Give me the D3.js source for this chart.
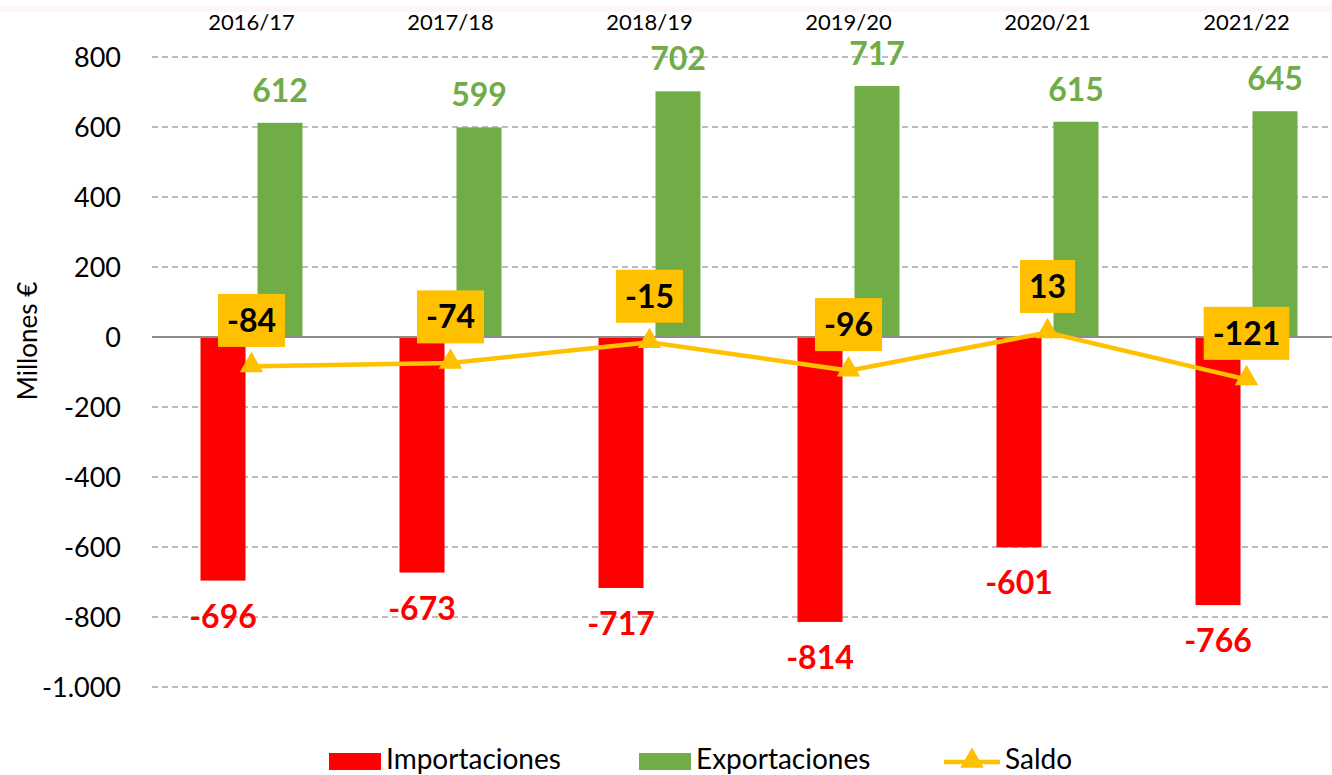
<!DOCTYPE html>
<html>
<head>
<meta charset="utf-8">
<script src="https://cdn.jsdelivr.net/npm/d3@7"></script>
<style>
  body { margin: 0; background: #fff; }
  svg { display: block; font-family: Lato, "Open Sans", sans-serif; }
</style>
</head>
<body>
<div id="chart"></div>
<script>
// campaign years and values (millones €)
var campaigns = ["2016/17", "2017/18", "2018/19", "2019/20", "2020/21", "2021/22"];
var importaciones = [-696, -673, -717, -814, -601, -766];
var exportaciones = [612, 599, 702, 717, 615, 645];
var saldo = [-84, -74, -15, -96, 13, -121];
var yTicks = [-1000, -800, -600, -400, -200, 0, 200, 400, 600, 800];

var width = 1332, height = 775;
var colImp = "#ff0000", colExp = "#70ad47", colSaldo = "#ffc000";

var svg = d3.select("#chart").append("svg")
  .attr("width", width)
  .attr("height", height);

// faint strip along the top
svg.append("rect").attr("x", 0).attr("y", 6).attr("width", width).attr("height", 6)
  .attr("fill", "#fcf7f6");

var x = d3.scaleBand().domain(campaigns).range([152, 1346]);
var inner = d3.scaleBand().domain(["imp", "exp"]).range([0, x.bandwidth()])
  .paddingInner(0.21).paddingOuter(0.851);
var y = d3.scaleLinear().domain([-1000, 800]).range([687, 57]);

// spanish style: dot thousands, plain hyphen for minus
var fmt = function(v) {
  return d3.format(",")(v).replace(/,/g, ".").replace("\u2212", "-");
};

// grid
svg.append("g").selectAll("line")
  .data(yTicks.filter(function(d) { return d !== 0; }))
  .join("line")
  .attr("x1", 152).attr("x2", width)
  .attr("y1", function(d) { return y(d); })
  .attr("y2", function(d) { return y(d); })
  .attr("stroke", "#a6a6a6")
  .attr("stroke-width", 1.3)
  .attr("stroke-dasharray", "6,4");

// y axis labels
svg.append("g").selectAll("text")
  .data(yTicks)
  .join("text")
  .attr("x", 121)
  .attr("y", function(d) { return y(d); })
  .attr("dy", "0.36em")
  .attr("text-anchor", "end")
  .attr("font-size", 27)
  .attr("fill", "#000")
  .text(fmt);

// y title
svg.append("text")
  .attr("transform", "translate(37,341) rotate(-90)")
  .attr("text-anchor", "middle")
  .attr("font-size", 26)
  .text("Millones €");

// campaign labels on top
svg.append("g").selectAll("text")
  .data(campaigns)
  .join("text")
  .attr("x", function(d) { return x(d) + x.bandwidth() / 2; })
  .attr("y", 30)
  .attr("text-anchor", "middle")
  .attr("font-size", 22)
  .text(function(d) { return d; });

// bars
svg.append("g").selectAll("rect")
  .data(importaciones)
  .join("rect")
  .attr("x", function(d, i) { return x(campaigns[i]) + inner("imp"); })
  .attr("width", inner.bandwidth())
  .attr("y", y(0))
  .attr("height", function(d) { return y(d) - y(0); })
  .attr("fill", colImp);

svg.append("g").selectAll("rect")
  .data(exportaciones)
  .join("rect")
  .attr("x", function(d, i) { return x(campaigns[i]) + inner("exp"); })
  .attr("width", inner.bandwidth())
  .attr("y", function(d) { return y(d); })
  .attr("height", function(d) { return y(0) - y(d); })
  .attr("fill", colExp);

// zero line
svg.append("line")
  .attr("x1", 152).attr("x2", width)
  .attr("y1", y(0)).attr("y2", y(0))
  .attr("stroke", "#8c8c8c")
  .attr("stroke-width", 2);

// bar value labels
svg.append("g").selectAll("text")
  .data(exportaciones)
  .join("text")
  .attr("x", function(d, i) { return x(campaigns[i]) + inner("exp") + inner.bandwidth() / 2; })
  .attr("y", function(d) { return y(d) - 21; })
  .attr("text-anchor", "middle")
  .attr("font-size", 32)
  .attr("font-weight", "bold")
  .attr("fill", colExp)
  .text(fmt);

svg.append("g").selectAll("text")
  .data(importaciones)
  .join("text")
  .attr("x", function(d, i) { return x(campaigns[i]) + inner("imp") + inner.bandwidth() / 2; })
  .attr("y", function(d) { return y(d) + 47; })
  .attr("text-anchor", "middle")
  .attr("font-size", 32)
  .attr("font-weight", "bold")
  .attr("fill", colImp)
  .text(fmt);

// saldo line
var cx = function(d, i) { return x(campaigns[i]) + x.bandwidth() / 2; };
var line = d3.line()
  .x(cx)
  .y(function(d) { return y(d); });

svg.append("path")
  .datum(saldo)
  .attr("d", line)
  .attr("fill", "none")
  .attr("stroke", colSaldo)
  .attr("stroke-width", 4.5);

var tri = d3.symbol().type(d3.symbolTriangle).size(240);
svg.append("g").selectAll("path")
  .data(saldo)
  .join("path")
  .attr("d", tri)
  .attr("transform", function(d, i) { return "translate(" + cx(d, i) + "," + (y(d) - 1) + ")"; })
  .attr("fill", colSaldo);

// saldo label boxes
var sLab = svg.append("g").selectAll("g")
  .data(saldo)
  .join("g")
  .attr("transform", function(d, i) { return "translate(" + cx(d, i) + "," + (y(d) - 46) + ")"; });

sLab.append("text")
  .attr("text-anchor", "middle")
  .attr("dy", "0.36em")
  .attr("font-size", 32)
  .attr("font-weight", "bold")
  .attr("fill", "#000")
  .text(fmt)
  .each(function() {
    var bb = this.getBBox();
    d3.select(this.parentNode).insert("rect", "text")
      .attr("x", bb.x - 9)
      .attr("y", -26.5)
      .attr("width", bb.width + 18)
      .attr("height", 53)
      .attr("fill", colSaldo);
  });

// legend
var leg = svg.append("g");
leg.append("rect").attr("x", 329).attr("y", 753).attr("width", 52).attr("height", 17).attr("fill", colImp);
leg.append("text").attr("x", 386).attr("y", 769).attr("font-size", 28).text("Importaciones");
leg.append("rect").attr("x", 639).attr("y", 753).attr("width", 52).attr("height", 17).attr("fill", colExp);
leg.append("text").attr("x", 696).attr("y", 769).attr("font-size", 28).text("Exportaciones");
leg.append("line").attr("x1", 944).attr("x2", 1000).attr("y1", 762).attr("y2", 762)
  .attr("stroke", colSaldo).attr("stroke-width", 4.5);
leg.append("path").attr("d", tri).attr("transform", "translate(972,761)").attr("fill", colSaldo);
leg.append("text").attr("x", 1005).attr("y", 769).attr("font-size", 28).text("Saldo");
</script>
</body>
</html>
